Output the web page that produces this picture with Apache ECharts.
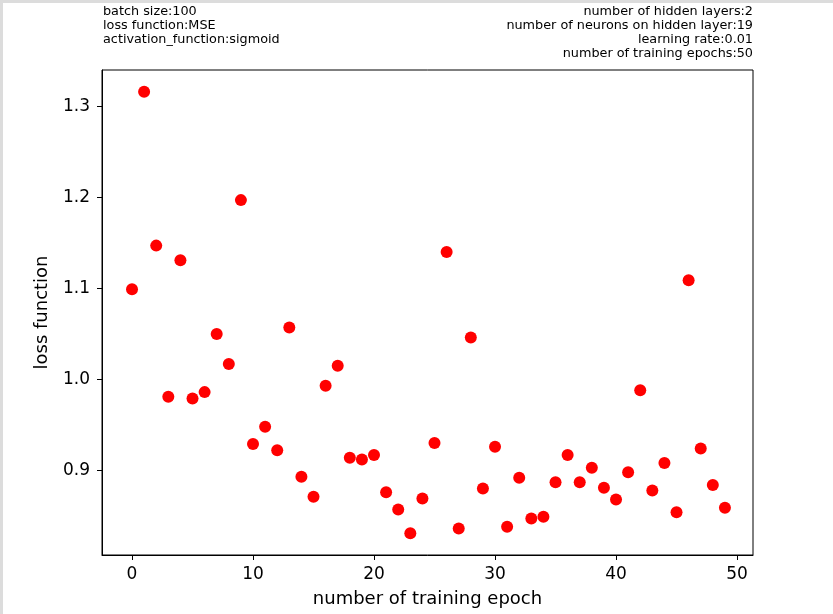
<!DOCTYPE html>
<html><head><meta charset="utf-8">
<script src="https://cdn.jsdelivr.net/npm/echarts@6/dist/echarts.min.js"></script>
<style>
html,body{margin:0;padding:0;background:#fff;}
#wrap{width:833px;height:614px;position:relative;background:#fff;}
#c{width:833px;height:614px;}
#bl{position:absolute;left:0;top:0;width:3px;height:614px;background:#dcdcdc;}
#bt{position:absolute;left:0;top:0;width:833px;height:3px;background:#dcdcdc;}
</style></head>
<body><div id="wrap"><div id="c"></div><div id="bl"></div><div id="bt"></div></div>
<script>
const epochs = [0,1,2,3,4,5,6,7,8,9,10,11,12,13,14,15,16,17,18,19,20,21,22,23,24,25,26,27,28,29,30,31,32,33,34,35,36,37,38,39,40,41,42,43,44,45,46,47,48,49];
const lossValues = [1.099,1.316,1.147,0.981,1.131,0.979,0.986,1.050,1.017,1.197,
  0.929,0.948,0.922,1.057,0.893,0.871,0.993,1.015,0.914,0.912,
  0.917,0.876,0.857,0.831,0.869,0.930,1.140,0.836,1.046,0.880,
  0.926,0.838,0.892,0.847,0.849,0.887,0.917,0.887,0.903,0.881,
  0.868,0.898,0.988,0.878,0.908,0.854,1.109,0.924,0.884,0.859];
const xTicks = [0,10,20,30,40,50];
const yTicks = [0.9,1.0,1.1,1.2,1.3];
const leftNotes = ['batch size:100','loss function:MSE','activation_function:sigmoid'];
const rightNotes = ['number of hidden layers:2','number of neurons on hidden layer:19','learning rate:0.01','number of training epochs:50'];

const font = 'DejaVu Sans';
const chart = echarts.init(document.getElementById('c'), null, {renderer:'canvas'});
const data = epochs.map((e,i)=>[e, lossValues[i]]);
const graphics = [];
leftNotes.forEach((t,i)=>graphics.push({type:'text', left:103, top:5+i*14, style:{text:t, font:'12.8px "DejaVu Sans"', fill:'#000'}}));
rightNotes.forEach((t,i)=>graphics.push({type:'text', right:80, top:5+i*14, style:{text:t, font:'12.8px "DejaVu Sans"', fill:'#000', align:'right'}}));
chart.setOption({
  animation:false,
  backgroundColor:'#fff',
  textStyle:{fontFamily:font},
  graphic: graphics,
  grid:{left:102, right:80, top:70, bottom:59, show:true, borderColor:'#000', borderWidth:1, backgroundColor:'transparent'},
  xAxis:{
    type:'value', min:-2.48, max:51.32,
    name:'number of training epoch', nameLocation:'middle', nameGap:35,
    nameTextStyle:{fontFamily:font, fontSize:18, color:'#000'},
    axisLine:{show:true, onZero:false, lineStyle:{color:'#000', width:1}},
    axisTick:{show:true, inside:false, length:5, customValues:xTicks, lineStyle:{color:'#000'}},
    axisLabel:{customValues:xTicks, fontFamily:font, fontSize:17, color:'#000', margin:11},
    splitLine:{show:false}
  },
  yAxis:{
    type:'value', min:0.807, max:1.340,
    name:'loss function', nameLocation:'middle', nameGap:51, nameRotate:90,
    nameTextStyle:{fontFamily:font, fontSize:18, color:'#000'},
    axisLine:{show:true, onZero:false, lineStyle:{color:'#000', width:1}},
    axisTick:{show:true, inside:false, length:5, customValues:yTicks, lineStyle:{color:'#000'}},
    axisLabel:{customValues:yTicks, fontFamily:font, fontSize:17, color:'#000', margin:12, formatter:v=>v.toFixed(1)},
    splitLine:{show:false}
  },
  series:[{
    type:'scatter', data:data, symbol:'circle', symbolSize:12,
    itemStyle:{color:'#ff0000', opacity:1}
  }]
});
</script></body></html>
